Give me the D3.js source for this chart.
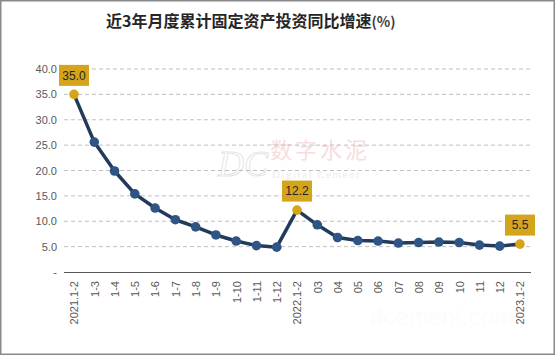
<!DOCTYPE html>
<html><head><meta charset="utf-8">
<script src="https://cdn.jsdelivr.net/npm/d3@7"></script>
<style>body{margin:0;background:#fff;}svg{display:block;}</style>
</head><body>
<script>
const categories = ["2021.1-2","1-3","1-4","1-5","1-6","1-7","1-8","1-9","1-10","1-11","1-12",
  "2022.1-2","03","04","05","06","07","08","09","10","11","12","2023.1-2"];
const values = [35.0,25.6,19.9,15.4,12.6,10.3,8.9,7.3,6.1,5.2,4.9,
  12.2,9.3,6.8,6.2,6.1,5.7,5.8,5.9,5.8,5.3,5.1,5.5];
const highlighted = ["2021.1-2","2022.1-2","2023.1-2"];
const yTicks = [0,5,10,15,20,25,30,35,40];
const title = "近3年月度累计固定资产投资同比增速";

const W=555,H=355;
const svg=d3.select("body").append("svg").attr("width",W).attr("height",H);
svg.append("rect").attr("x",0.75).attr("y",0.75).attr("width",W-1.5).attr("height",H-1.5)
  .attr("fill","#fff").attr("stroke","#8a8a8a").attr("stroke-width",1.5);

const x=d3.scalePoint().domain(categories).range([74,520]);
const y=d3.scaleLinear().domain([0,40]).range([272,69]);

// watermark
const wm=svg.append("g");
wm.append("text").attr("x",218).attr("y",176).attr("font-family","Liberation Serif").attr("font-style","italic")
  .attr("font-size",36).attr("fill","none").attr("stroke","#e6e6e6").attr("stroke-width",1).text("DC");
wm.append("text").attr("x",270).attr("y",158).attr("font-family","Noto Sans CJK SC").attr("font-size",22)
  .attr("fill","#f6dede").attr("letter-spacing",3).text("数字水泥");
wm.append("text").attr("x",272).attr("y",178).attr("font-family","Liberation Serif")
  .attr("font-size",11).attr("fill","#ececec").attr("letter-spacing",1.5).text("Digital Cement");
wm.append("text").attr("x",370).attr("y",325).attr("font-family","Liberation Sans")
  .attr("font-size",24).attr("fill","#fcfcfc").text("dcement.com");

// title
const t=svg.append("text").attr("x",106).attr("y",27).attr("font-family","Noto Sans CJK SC")
  .attr("font-weight","bold").attr("font-size",16).attr("fill","#262626");
t.append("tspan").text(title);
t.append("tspan").attr("font-size",14).attr("fill","#404040").text("(%)");

// gridlines
svg.append("g").selectAll("line").data(yTicks.filter(d=>d>0)).join("line")
  .attr("x1",64).attr("x2",531).attr("y1",d=>y(d)).attr("y2",d=>y(d))
  .attr("stroke","#bfbfbf").attr("stroke-dasharray","4,3").attr("stroke-width",1);

// y axis
const yAxis=d3.axisLeft(y).tickValues(yTicks).tickSize(0).tickPadding(0)
  .tickFormat(d=>d===0?"-":d3.format(".1f")(d));
const yg=svg.append("g").attr("transform","translate(57,0)").call(yAxis);
yg.select(".domain").remove();
yg.selectAll("text").attr("font-family","Liberation Sans").attr("font-size",11).attr("fill","#595959");

// x axis
const xAxis=d3.axisBottom(x).tickSize(0).tickPadding(0);
const xg=svg.append("g").attr("transform","translate(0,272)").call(xAxis);
xg.select(".domain").attr("d","M64,0.5H531").attr("stroke","#595959").attr("stroke-width",1.2);
xg.selectAll("text").attr("font-family","Liberation Sans").attr("font-size",11).attr("fill","#595959")
  .attr("transform","rotate(-90)").attr("text-anchor","end").attr("dx","-9").attr("dy","0.35em").attr("x",0).attr("y",0);

// line
const line=d3.line().x((d,i)=>x(categories[i])).y(d=>y(d));
svg.append("path").datum(values).attr("d",line).attr("fill","none")
  .attr("stroke","#243a5a").attr("stroke-width",3.5).attr("stroke-linejoin","round");

// points
svg.append("g").selectAll("circle").data(values).join("circle")
  .attr("cx",(d,i)=>x(categories[i])).attr("cy",d=>y(d)).attr("r",4.8)
  .attr("fill",(d,i)=>highlighted.includes(categories[i])?"#d4a41a":"#2e5585");

// callouts
const hl=values.map((v,i)=>({v,c:categories[i]})).filter(d=>highlighted.includes(d.c));
const cg=svg.append("g").selectAll("g").data(hl).join("g")
  .attr("transform",d=>`translate(${x(d.c)},${y(d.v)-19})`);
cg.append("rect").attr("x",-15).attr("y",-10.5).attr("width",30).attr("height",21).attr("fill","#d4a41a");
cg.append("text").attr("text-anchor","middle").attr("dy","0.36em").attr("font-family","Liberation Sans")
  .attr("font-size",12).attr("fill","#262626").text(d=>d3.format(".1f")(d.v));
</script>
</body></html>
